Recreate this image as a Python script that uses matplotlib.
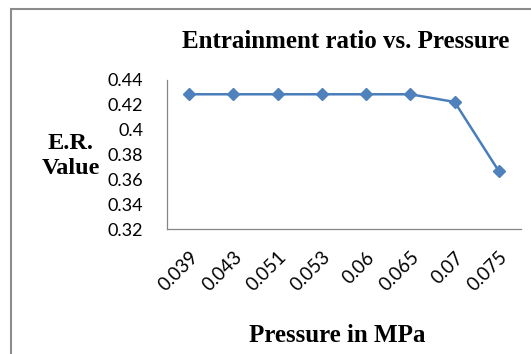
import matplotlib
matplotlib.use("Agg")
import matplotlib.pyplot as plt
from matplotlib.patches import Rectangle

pressures = ["0.039", "0.043", "0.051", "0.053", "0.06", "0.065", "0.07", "0.075"]
er_values = [0.4285, 0.4285, 0.4285, 0.4285, 0.4285, 0.4285, 0.4223, 0.3665]
y_ticks = [0.32, 0.34, 0.36, 0.38, 0.40, 0.42, 0.44]
y_tick_labels = ["0.32", "0.34", "0.36", "0.38", "0.4", "0.42", "0.44"]

W, H = 531, 354
fig = plt.figure(figsize=(W / 100, H / 100), dpi=100)
fig.patches.append(Rectangle((10.5 / W, -0.1), 1.2, 1.1 - 9.5 / H, transform=fig.transFigure,
                             fill=False, edgecolor="#8c8c8c", linewidth=1.5))

ax = fig.add_axes([167 / W, 1 - 229 / H, (521 - 167) / W, (229 - 80) / H])
x = list(range(len(pressures)))
ax.plot(x, er_values, color="#4a7ebb", linewidth=1.8, marker="D", markersize=6.5,
        markerfacecolor="#4f81bd", markeredgecolor="#4f81bd")
ax.set_xlim(-0.5, len(pressures) - 0.5)
ax.set_ylim(0.32, 0.44)
ax.set_yticks(y_ticks)
ax.set_yticklabels(y_tick_labels, fontfamily="Lato", fontsize=13)
ax.set_xticks(x)
ax.set_xticklabels(pressures, fontfamily="Lato", fontsize=13.5, rotation=45,
                   ha="right", rotation_mode="anchor")
ax.tick_params(axis="both", length=0)
ax.tick_params(axis="y", pad=17)
ax.tick_params(axis="x", pad=14)
for s in ["top", "right"]:
    ax.spines[s].set_visible(False)
for s in ["left", "bottom"]:
    ax.spines[s].set_color("#868686")
    ax.spines[s].set_linewidth(0.9)

fig.text(346 / W, 1 - 42 / H, "Entrainment ratio vs. Pressure", family="Liberation Serif",
         weight="bold", fontsize=18, ha="center", va="center")
fig.text(71 / W, 1 - 156 / H, "E.R.\nValue", family="Liberation Serif",
         weight="bold", fontsize=17.5, ha="center", va="center", linespacing=1.25)
fig.text(337 / W, 1 - 335 / H, "Pressure in MPa", family="Liberation Serif",
         weight="bold", fontsize=18, ha="center", va="center")

fig.savefig("out.png", dpi=100)
